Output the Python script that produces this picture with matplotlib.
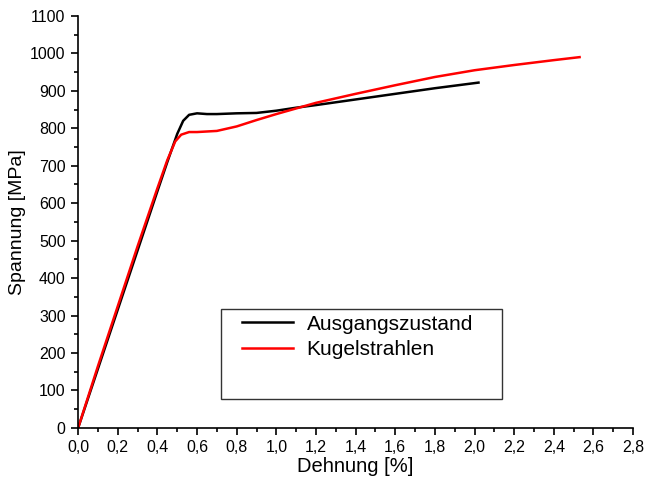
import matplotlib
matplotlib.use("Agg")
import matplotlib.pyplot as plt
from matplotlib.patches import Rectangle
from matplotlib.ticker import MultipleLocator, FuncFormatter

plt.rcParams['font.family'] = ['Liberation Sans', 'DejaVu Sans']

# Ausgangszustand (black)
dehnung_a = [0.0, 0.1, 0.2, 0.3, 0.4, 0.45, 0.5, 0.53, 0.56, 0.6, 0.65, 0.7, 0.8, 0.9,
             1.0, 1.1, 1.2, 1.4, 1.6, 1.8, 2.02]
spannung_a = [0, 158, 316, 474, 632, 710, 785, 820, 836, 840, 838, 838, 840, 841,
              847, 855, 862, 877, 892, 907, 922]

# Kugelstrahlen (red)
dehnung_k = [0.0, 0.1, 0.2, 0.3, 0.4, 0.45, 0.49, 0.52, 0.56, 0.6, 0.7, 0.8, 0.9,
             1.0, 1.1, 1.2, 1.4, 1.6, 1.8, 2.0, 2.2, 2.4, 2.53]
spannung_k = [0, 165, 325, 485, 640, 715, 765, 783, 790, 790, 793, 805, 822,
              838, 853, 868, 892, 915, 937, 955, 969, 982, 990]

fig = plt.figure(figsize=(6.51, 4.83), dpi=100)
ax = fig.add_axes([0.12, 0.114, 0.8525, 0.853])

ax.plot(dehnung_a, spannung_a, color='black', lw=1.8, label='Ausgangszustand')
ax.plot(dehnung_k, spannung_k, color='red', lw=1.8, label='Kugelstrahlen')

ax.set_xlim(0, 2.8)
ax.set_ylim(0, 1100)
ax.xaxis.set_major_locator(MultipleLocator(0.2))
ax.xaxis.set_minor_locator(MultipleLocator(0.1))
ax.yaxis.set_major_locator(MultipleLocator(100))
ax.yaxis.set_minor_locator(MultipleLocator(50))
ax.xaxis.set_major_formatter(FuncFormatter(lambda v, p: f"{v:.1f}".replace('.', ',')))

for s in ['top', 'right']:
    ax.spines[s].set_visible(False)
for s in ['left', 'bottom']:
    ax.spines[s].set_linewidth(1.2)
ax.tick_params(which='major', direction='out', length=5, width=1.2, labelsize=11.5, pad=4)
ax.tick_params(which='minor', direction='out', length=3, width=1.2)

ax.set_xlabel('Dehnung [%]', fontsize=14.5, labelpad=1)
ax.set_ylabel('Spannung [MPa]', fontsize=14, labelpad=3)

# legend frame (Origin style, with empty space below entries)
ax.add_patch(Rectangle((0.2577, 0.0704), 0.5063, 0.2184, transform=ax.transAxes,
                       fill=False, edgecolor='#333333', lw=1.0, zorder=5))
leg = ax.legend(loc='upper left', bbox_to_anchor=(0.2955, 0.275), fontsize=15,
                frameon=False, borderpad=0, borderaxespad=0, handlelength=2.45,
                handletextpad=0.65, labelspacing=0.3)

fig.savefig('out.png', dpi=100)
